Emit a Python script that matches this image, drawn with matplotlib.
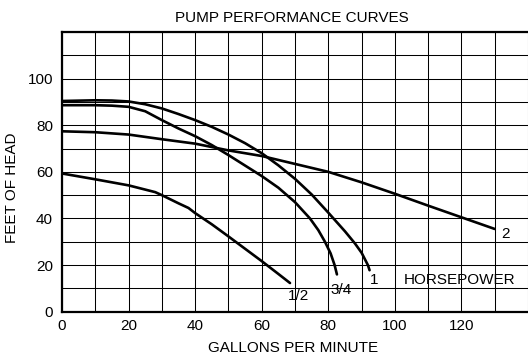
import matplotlib
matplotlib.use("Agg")
import matplotlib.pyplot as plt
from matplotlib.ticker import MultipleLocator

plt.rcParams['font.family'] = ['Liberation Sans', 'DejaVu Sans']
plt.rcParams['font.size'] = 11

# Head (feet) versus flow (gallons per minute) for each motor size
gpm_half = [0, 10, 20, 28, 30, 35, 38, 40, 45, 50, 55, 60, 65, 68.5]
head_half = [59.3, 56.8, 54.2, 51.3, 50.0, 46.5, 44.5, 42.3, 37.5, 32.3, 27.0, 21.7, 16.2, 12.3]

gpm_three_q = [0, 10, 15, 20, 25, 30, 35, 40, 45, 50, 55, 60, 65, 70, 74.5, 77, 79, 80.7, 81.9, 82.6]
head_three_q = [88.6, 88.6, 88.4, 87.9, 86.0, 82.2, 78.6, 75.3, 71.5, 67.2, 62.7, 58.2, 53.2, 47.0,
                40.0, 35.0, 30.0, 25.0, 20.0, 16.0]

gpm_one = [0, 10, 15, 20, 25, 30, 35, 40, 45, 50, 55, 60, 65, 70, 75, 80, 85, 88, 90, 91.9, 92.4]
head_one = [90.4, 90.7, 90.6, 90.2, 89.0, 87.2, 84.8, 82.2, 79.3, 76.0, 72.3, 68.0, 62.8, 57.0,
            50.3, 42.5, 34.5, 29.3, 25.3, 20.0, 17.8]

gpm_two = [0, 10, 20, 30, 40, 50, 60, 70, 80, 90, 100, 110, 120, 130]
head_two = [77.4, 77.0, 76.0, 74.0, 72.1, 69.2, 66.8, 63.4, 60.0, 55.5, 50.6, 45.5, 40.5, 35.5]

x_ticks = [0, 20, 40, 60, 80, 100, 120]
y_ticks = [0, 20, 40, 60, 80, 100]

fig = plt.figure(figsize=(5.28, 3.54), dpi=100)
ax = fig.add_axes([62 / 528, 42.3 / 354, 466 / 528, 279.7 / 354])

ax.set_xlim(0, 140)
ax.set_ylim(0, 120)
ax.set_xticks(x_ticks)
ax.set_yticks(y_ticks)
ax.xaxis.set_minor_locator(MultipleLocator(10))
ax.yaxis.set_minor_locator(MultipleLocator(10))
ax.grid(which='both', color='black', linewidth=0.75)
ax.set_axisbelow(True)
ax.tick_params(which='both', length=0)
ax.tick_params(axis='x', pad=5)
ax.tick_params(axis='y', pad=6.5)

for side in ('left', 'bottom', 'top'):
    ax.spines[side].set_linewidth(1.6)
ax.spines['right'].set_visible(False)

curve_style = dict(color='black', linewidth=1.9, solid_joinstyle='round', solid_capstyle='round')
ax.plot(gpm_half, head_half, **curve_style)
ax.plot(gpm_three_q, head_three_q, **curve_style)
ax.plot(gpm_one, head_one, **curve_style)
ax.plot(gpm_two, head_two, **curve_style)

ax.text(131.9, 31.8, '2', ha='left', va='baseline')
ax.text(93.7, 11.8, '1', ha='center', va='baseline')
ax.text(83.9, 7.5, '3/4', ha='center', va='baseline')
ax.text(71.1, 5.0, '1/2', ha='center', va='baseline')
ax.text(119.3, 11.9, 'HORSEPOWER', ha='center', va='baseline')

ax.set_xlabel('GALLONS PER MINUTE')
ax.xaxis.set_label_coords(0.496, -0.104)
ax.set_ylabel('FEET OF HEAD')
ax.yaxis.set_label_coords(-0.092, 0.443)

fig.text(292.3 / 528, 1 - 21.7 / 354, 'PUMP PERFORMANCE CURVES', ha='center', va='baseline')

fig.savefig('out.png', dpi=100)
